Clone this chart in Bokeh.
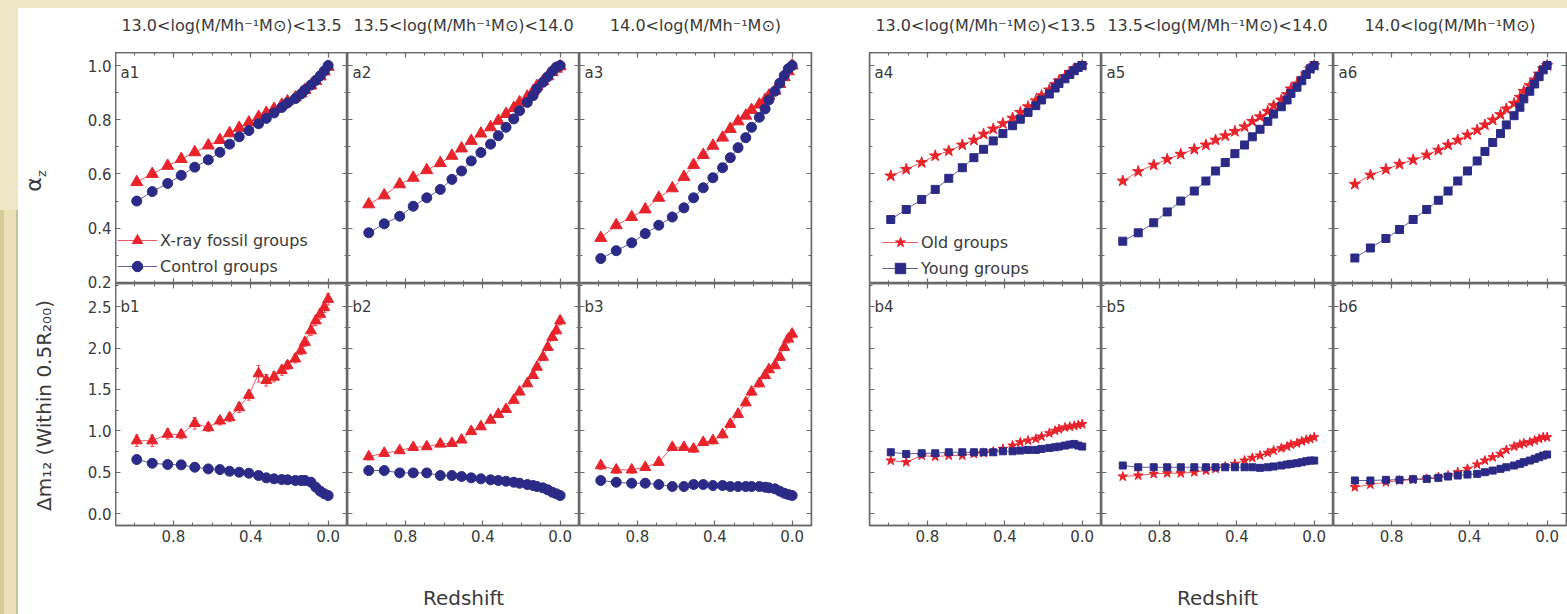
import math
from bokeh.plotting import figure
from bokeh.models import (Range1d, LinearAxis, FixedTicker, Label, Legend, LegendItem,
                          Whisker, TeeHead, ColumnDataSource, Spacer, NumeralTickFormatter)
from bokeh.layouts import row, column
from bokeh.embed import file_html
from bokeh.resources import INLINE

# ---------------- data ----------------
redshift = [0.99, 0.91, 0.83, 0.76, 0.69, 0.62, 0.56, 0.51, 0.46, 0.41, 0.36, 0.32,
            0.28, 0.24, 0.21, 0.17, 0.14, 0.12, 0.089, 0.064, 0.041, 0.020, 0.0]

mass_bins = ["13.0<log(M/Mh\u207b\u00b9M\u2299)<13.5",
             "13.5<log(M/Mh\u207b\u00b9M\u2299)<14.0",
             "14.0<log(M/Mh\u207b\u00b9M\u2299)"]

# alpha_z : fossil vs control
a1_fossil = [0.57, 0.60, 0.63, 0.655, 0.68, 0.705, 0.725, 0.75, 0.77, 0.79, 0.81, 0.825,
             0.84, 0.855, 0.868, 0.882, 0.897, 0.91, 0.926, 0.943, 0.96, 0.978, 0.995]
a1_control = [0.50, 0.535, 0.565, 0.595, 0.625, 0.652, 0.68, 0.71, 0.737, 0.76, 0.785, 0.805,
              0.825, 0.845, 0.862, 0.878, 0.895, 0.91, 0.928, 0.945, 0.962, 0.98, 1.0]
a2_fossil = [0.488, 0.521, 0.562, 0.586, 0.614, 0.64, 0.667, 0.694, 0.722, 0.749, 0.772, 0.796,
             0.821, 0.843, 0.864, 0.885, 0.905, 0.924, 0.942, 0.96, 0.976, 0.988, 0.997]
a2_control = [0.383, 0.416, 0.444, 0.481, 0.512, 0.543, 0.58, 0.611, 0.648, 0.679, 0.71, 0.741,
              0.772, 0.803, 0.833, 0.864, 0.889, 0.914, 0.938, 0.959, 0.979, 0.994, 1.0]
a3_fossil = [0.364, 0.411, 0.441, 0.469, 0.512, 0.547, 0.589, 0.633, 0.670, 0.704, 0.734, 0.766,
             0.794, 0.815, 0.836, 0.856, 0.873, 0.889, 0.907, 0.932, 0.957, 0.979, 1.0]
a3_control = [0.288, 0.317, 0.346, 0.38, 0.411, 0.441, 0.475, 0.512, 0.549, 0.586, 0.623, 0.66,
              0.697, 0.734, 0.772, 0.809, 0.84, 0.873, 0.905, 0.935, 0.963, 0.988, 1.0]

# alpha_z : old vs young
a4_old = [0.593, 0.617, 0.642, 0.667, 0.685, 0.707, 0.725, 0.747, 0.766, 0.786, 0.806, 0.827,
          0.848, 0.87, 0.889, 0.91, 0.93, 0.944, 0.959, 0.975, 0.988, 0.995, 1.0]
a4_young = [0.432, 0.469, 0.506, 0.543, 0.584, 0.623, 0.66, 0.691, 0.722, 0.749, 0.778, 0.802,
            0.827, 0.852, 0.873, 0.895, 0.917, 0.934, 0.951, 0.967, 0.981, 0.993, 1.0]
a5_old = [0.574, 0.609, 0.633, 0.654, 0.673, 0.691, 0.707, 0.725, 0.741, 0.757, 0.774, 0.794,
          0.811, 0.831, 0.852, 0.873, 0.893, 0.914, 0.932, 0.951, 0.969, 0.988, 1.0]
a5_young = [0.352, 0.383, 0.42, 0.46, 0.5, 0.537, 0.574, 0.611, 0.642, 0.675, 0.707, 0.737,
            0.765, 0.794, 0.821, 0.848, 0.873, 0.897, 0.92, 0.944, 0.967, 0.988, 1.0]
a6_old = [0.562, 0.596, 0.617, 0.636, 0.652, 0.670, 0.688, 0.707, 0.725, 0.744, 0.762, 0.781,
          0.799, 0.819, 0.84, 0.86, 0.883, 0.905, 0.926, 0.947, 0.969, 0.988, 1.0]
a6_young = [0.29, 0.327, 0.362, 0.395, 0.432, 0.469, 0.503, 0.537, 0.574, 0.611, 0.648, 0.683,
            0.716, 0.749, 0.781, 0.815, 0.846, 0.877, 0.905, 0.932, 0.959, 0.984, 1.0]

# magnitude gap : fossil vs control
b1_fossil = [0.88, 0.88, 0.96, 0.954, 1.09, 1.04, 1.12, 1.16, 1.28, 1.43, 1.69, 1.61,
             1.65, 1.73, 1.79, 1.87, 1.97, 2.07, 2.21, 2.33, 2.41, 2.49, 2.59]
b1_fossil_err = [0.07, 0.07, 0.06, 0.05, 0.07, 0.05, 0.05, 0.05, 0.06, 0.06, 0.10, 0.07,
                 0.06, 0.06, 0.05, 0.05, 0.05, 0.05, 0.06, 0.06, 0.06, 0.06, 0.07]
b1_control = [0.652, 0.607, 0.592, 0.588, 0.559, 0.539, 0.531, 0.511, 0.499, 0.487, 0.459, 0.431,
              0.419, 0.41, 0.407, 0.399, 0.399, 0.399, 0.378, 0.318, 0.27, 0.238, 0.217]
b2_fossil = [0.688, 0.729, 0.761, 0.801, 0.809, 0.841, 0.849, 0.89, 0.994, 1.05, 1.13, 1.20,
             1.26, 1.37, 1.47, 1.57, 1.67, 1.77, 1.89, 2.01, 2.13, 2.21, 2.33]
b2_fossil_err = [0.04, 0.04, 0.03, 0.03, 0.03, 0.03, 0.03, 0.03, 0.03, 0.03, 0.03, 0.03,
                 0.03, 0.03, 0.03, 0.03, 0.03, 0.03, 0.04, 0.04, 0.04, 0.04, 0.05]
b2_control = [0.519, 0.519, 0.491, 0.491, 0.491, 0.459, 0.459, 0.447, 0.431, 0.419, 0.407, 0.399,
              0.39, 0.378, 0.366, 0.35, 0.338, 0.326, 0.31, 0.286, 0.257, 0.238, 0.217]
b3_fossil = [0.58, 0.528, 0.528, 0.559, 0.62, 0.801, 0.801, 0.781, 0.861, 0.882, 0.954, 1.08,
             1.20, 1.34, 1.47, 1.57, 1.67, 1.74, 1.79, 1.89, 2.01, 2.11, 2.17]
b3_fossil_err = [0.05, 0.04, 0.04, 0.04, 0.04, 0.04, 0.04, 0.04, 0.04, 0.04, 0.04, 0.04,
                 0.04, 0.04, 0.04, 0.04, 0.04, 0.04, 0.04, 0.04, 0.04, 0.05, 0.05]
b3_control = [0.399, 0.378, 0.366, 0.366, 0.35, 0.326, 0.326, 0.35, 0.35, 0.338, 0.338, 0.326,
              0.326, 0.326, 0.326, 0.326, 0.318, 0.31, 0.298, 0.27, 0.245, 0.229, 0.217]

# magnitude gap : old vs young
b4_old = [0.64, 0.62, 0.70, 0.688, 0.70, 0.70, 0.721, 0.733, 0.749, 0.781, 0.821, 0.861,
          0.882, 0.902, 0.93, 0.97, 1.0, 1.02, 1.04, 1.05, 1.06, 1.07, 1.08]
b4_young = [0.74, 0.72, 0.728, 0.728, 0.74, 0.74, 0.74, 0.74, 0.74, 0.752, 0.752, 0.761,
            0.769, 0.769, 0.781, 0.793, 0.801, 0.809, 0.821, 0.833, 0.841, 0.821, 0.809]
b5_old = [0.447, 0.459, 0.479, 0.487, 0.487, 0.499, 0.519, 0.54, 0.568, 0.60, 0.64, 0.673,
          0.70, 0.733, 0.761, 0.789, 0.809, 0.833, 0.849, 0.873, 0.89, 0.902, 0.922]
b5_young = [0.58, 0.559, 0.559, 0.559, 0.559, 0.559, 0.559, 0.559, 0.559, 0.559, 0.559, 0.559,
            0.552, 0.559, 0.568, 0.58, 0.592, 0.60, 0.608, 0.62, 0.632, 0.64, 0.64]
b6_old = [0.318, 0.35, 0.378, 0.399, 0.407, 0.419, 0.438, 0.459, 0.499, 0.54, 0.592, 0.64,
          0.68, 0.721, 0.769, 0.809, 0.833, 0.849, 0.861, 0.882, 0.902, 0.922, 0.922]
b6_young = [0.399, 0.399, 0.407, 0.407, 0.415, 0.419, 0.431, 0.447, 0.459, 0.471, 0.479, 0.499,
            0.519, 0.54, 0.559, 0.58, 0.60, 0.62, 0.64, 0.661, 0.68, 0.70, 0.713]

x_ticks = [0.8, 0.4, 0.0]
x_minor = [1.0, 0.9, 0.7, 0.6, 0.5, 0.3, 0.2, 0.1]
alpha_ticks = [0.2, 0.4, 0.6, 0.8, 1.0]
alpha_minor = [0.3, 0.5, 0.7, 0.9]
dm_ticks = [0.0, 0.5, 1.0, 1.5, 2.0, 2.5]
dm_minor = [0.25, 0.75, 1.25, 1.75, 2.25, 2.75]

# ---------------- style ----------------
RED = "#e8232b"
BLUE = "#2b2a86"
FRAME = "#6a6a6a"
TXT = "#3a3a3a"
FONT = "DejaVu Sans"
BEIGE = "#f0e7c7"
XR = (1.1, -0.1)
A_YR = (0.196, 1.048)
B_YR = (-0.145, 2.78)
A_H, B_H = 231, 242
B_BORDER = 27
BLOCK_W = 1487
LABEL_W = 62
AXIS_W = 35


def make_fig(w, h, yr, bl=0, br=0, bt=0, bb=0):
    p = figure(width=w, height=h, x_range=Range1d(*XR), y_range=Range1d(*yr),
               x_axis_location=None, y_axis_location=None, toolbar_location=None,
               output_backend="svg", title=None, min_border=0,
               min_border_left=bl, min_border_right=br, min_border_top=bt,
               min_border_bottom=bb)
    p.background_fill_color = "white"
    p.border_fill_color = "white"
    p.outline_line_color = FRAME
    p.outline_line_width = 1.5
    p.xgrid.visible = False
    p.ygrid.visible = False
    return p


def text_fig(w, h):
    p = figure(width=w, height=h, x_range=Range1d(0, w), y_range=Range1d(0, h),
               x_axis_location=None, y_axis_location=None, toolbar_location=None,
               output_backend="svg", title=None, min_border=0)
    p.background_fill_color = "white"
    p.border_fill_color = "white"
    p.outline_line_color = None
    p.xgrid.visible = False
    p.ygrid.visible = False
    return p


def style_labels(ax):
    ax.major_label_text_font = FONT
    ax.major_label_text_font_size = "15px"
    ax.major_label_text_color = TXT
    ax.major_label_standoff = 4


def add_axis(p, side, ticks, minor, loc, show):
    if show:
        ax = LinearAxis(ticker=FixedTicker(ticks=ticks, minor_ticks=minor),
                        formatter=NumeralTickFormatter(format="0.0"))
    else:
        ax = LinearAxis(ticker=FixedTicker(ticks=ticks, minor_ticks=minor), fixed_location=loc,
                        formatter=NumeralTickFormatter(format="0.0"))
    ax.axis_line_color = FRAME
    ax.axis_line_width = 1.5
    ax.major_tick_line_color = FRAME
    ax.minor_tick_line_color = FRAME
    ax.major_tick_line_width = 1.2
    ax.minor_tick_line_width = 1
    ax.major_tick_in = 5
    ax.major_tick_out = 0
    ax.minor_tick_in = 3
    ax.minor_tick_out = 0
    if show:
        style_labels(ax)
    else:
        ax.major_label_text_font_size = "0px"
        ax.major_label_text_color = None
    p.add_layout(ax, side)


def label(p, x, y, text, size, align="left", angle=0.0, color=TXT):
    p.add_layout(Label(x=x, y=y, x_units="screen", y_units="screen", text=text,
                       angle=angle, text_font=FONT, text_font_size=size, text_color=color,
                       text_align=align, text_baseline="middle"))


def draw(p, red, blue, rmark, bmark, rsize, bsize, err=None):
    data = dict(z=redshift, red=red, blue=blue)
    if err is not None:
        data["lo"] = [v - e for v, e in zip(red, err)]
        data["hi"] = [v + e for v, e in zip(red, err)]
    src = ColumnDataSource(data)
    rl = p.line("z", "red", source=src, line_color=RED, line_width=1, line_alpha=0.75)
    if err is not None:
        p.add_layout(Whisker(source=src, base="z", lower="lo", upper="hi", dimension="height",
                             line_color=RED, line_width=1, line_alpha=0.8,
                             lower_head=TeeHead(size=4, line_color=RED, line_alpha=0.8),
                             upper_head=TeeHead(size=4, line_color=RED, line_alpha=0.8)))
    rp = p.scatter("z", "red", source=src, marker=rmark, size=rsize,
                   fill_color=RED, line_color=RED)
    bl = p.line("z", "blue", source=src, line_color=BLUE, line_width=1, line_alpha=0.75)
    bp = p.scatter("z", "blue", source=src, marker=bmark, size=bsize,
                   fill_color=BLUE, line_color=BLUE)
    return rl, rp, bl, bp


# (figure width, border_left, border_right) for the six columns
cols = [(232, 0, 0), (232, 0, 0), (261, 0, 29), (261, 29, 0), (232, 0, 0), (234, 0, 1)]
frame_w = [w - l - r for (w, l, r) in cols]
frame_x0 = []
acc = AXIS_W
for (w, l, r) in cols:
    frame_x0.append(acc + l)
    acc += w

top_data = [(a1_fossil, a1_control), (a2_fossil, a2_control), (a3_fossil, a3_control),
            (a4_old, a4_young), (a5_old, a5_young), (a6_old, a6_young)]
bot_data = [(b1_fossil, b1_control, b1_fossil_err), (b2_fossil, b2_control, b2_fossil_err),
            (b3_fossil, b3_control, b3_fossil_err), (b4_old, b4_young, None),
            (b5_old, b5_young, None), (b6_old, b6_young, None)]

top_figs, bot_figs = [], []
for i in range(6):
    w, bl_, br_ = cols[i]
    left_block = i < 3
    rmark, bmark = ("triangle", "circle") if left_block else ("star", "square")

    # ---- top (alpha_z) ----
    p = make_fig(w, A_H, A_YR, bl=bl_, br=br_)
    add_axis(p, "left", alpha_ticks, alpha_minor, XR[0], False)
    add_axis(p, "right", alpha_ticks, alpha_minor, XR[1], False)
    add_axis(p, "above", x_ticks, x_minor, A_YR[1], False)
    add_axis(p, "below", x_ticks, x_minor, A_YR[0], False)
    red, blue = top_data[i]
    if left_block:
        rl, rp, bl, bp = draw(p, red, blue, rmark, bmark, 12, 10)
    else:
        rl, rp, bl, bp = draw(p, red, blue, rmark, bmark, 12, 8)
    label(p, 5, A_H - 20, "a%d" % (i + 1), "15px")
    leg = None
    if i == 0:
        leg = Legend(items=[LegendItem(label="X-ray fossil groups", renderers=[rl, rp]),
                            LegendItem(label="Control groups", renderers=[bl, bp])],
                     location=(2, 4))
    elif i == 3:
        leg = Legend(items=[LegendItem(label="Old groups", renderers=[rl, rp]),
                            LegendItem(label="Young groups", renderers=[bl, bp])],
                     location=(13, 2))
    if leg is not None:
        leg.background_fill_alpha = 0
        leg.border_line_color = None
        leg.label_text_font = FONT
        leg.label_text_font_size = "16px"
        leg.label_text_color = TXT
        leg.glyph_width = 40 if i == 0 else 36
        leg.glyph_height = 26
        leg.label_height = 26
        leg.spacing = 0
        leg.padding = 0
        leg.margin = 0
        leg.label_standoff = 3
        p.add_layout(leg)
    top_figs.append(p)

    # ---- bottom (magnitude gap) ----
    q = make_fig(w, B_H + B_BORDER, B_YR, bl=bl_, br=br_, bb=B_BORDER)
    add_axis(q, "left", dm_ticks, dm_minor, XR[0], False)
    add_axis(q, "right", dm_ticks, dm_minor, XR[1], False)
    add_axis(q, "above", x_ticks, x_minor, B_YR[1], False)
    add_axis(q, "below", x_ticks, x_minor, B_YR[0], True)
    red, blue, err = bot_data[i]
    if left_block:
        draw(q, red, blue, rmark, bmark, 11, 10, err)
    else:
        draw(q, red, blue, rmark, bmark, 10, 7, err)
    label(q, 5, B_H - 23, "b%d" % (i + 1), "15px")
    bot_figs.append(q)

# ---- shared y tick-label column (spans both rows, so no label is cut) ----
a_per_px = (A_YR[1] - A_YR[0]) / A_H
b_per_px = (B_YR[1] - B_YR[0]) / B_H
tall = A_H + B_H
axfig = figure(width=AXIS_W, height=tall + B_BORDER, x_range=Range1d(0, 1),
               y_range=Range1d(A_YR[1] - tall * a_per_px, A_YR[1]),
               x_axis_location=None, y_axis_location=None, toolbar_location=None,
               output_backend="svg", title=None, min_border=0, min_border_bottom=B_BORDER)
axfig.extra_y_ranges = {"dm": Range1d(B_YR[0], B_YR[0] + tall * b_per_px)}
axfig.background_fill_color = "white"
axfig.border_fill_color = "white"
axfig.outline_line_color = None
axfig.xgrid.visible = False
axfig.ygrid.visible = False
for ticks, rname in ((alpha_ticks, "default"), (dm_ticks, "dm")):
    ax = LinearAxis(ticker=FixedTicker(ticks=ticks), y_range_name=rname, fixed_location=1,
                    formatter=NumeralTickFormatter(format="0.0"))
    ax.axis_line_color = None
    ax.major_tick_line_color = None
    ax.minor_tick_line_color = None
    ax.major_tick_in = 0
    ax.major_tick_out = 0
    ax.minor_tick_in = 0
    ax.minor_tick_out = 0
    style_labels(ax)
    axfig.add_layout(ax, "left")

# ---- title strip (mass bins) ----
title_fig = text_fig(BLOCK_W, 44)
for i in range(6):
    label(title_fig, frame_x0[i] + frame_w[i] / 2, 27, mass_bins[i % 3], "16px", align="center")

# ---- bottom strip (x-axis titles) ----
xlab_fig = text_fig(BLOCK_W, 62)
for i in (1, 4):
    label(xlab_fig, frame_x0[i] + frame_w[i] / 2, 17, "Redshift", "20px", align="center")

# ---- left strip (y-axis titles) ----
ylab_fig = text_fig(LABEL_W, 606)
label(ylab_fig, 15, 430, "\u03b1", "22px", align="center", angle=math.pi / 2)
label(ylab_fig, 23, 441, "z", "13px", align="center", angle=math.pi / 2)
label(ylab_fig, 25, 209, "\u0394m\u2081\u2082 (Within 0.5R\u2082\u2080\u2080)", "20px",
      align="center", angle=math.pi / 2)

left_strip = column(
    Spacer(width=18, height=202, styles={"background-color": BEIGE}),
    row(Spacer(width=4, height=404, styles={"background-color": "#d9cb98"}),
        Spacer(width=12, height=404, styles={"background-color": "#ebe0b8"}),
        Spacer(width=2, height=404, styles={"background-color": "#c6bea0"})),
)
panels = column(row(*top_figs), row(*bot_figs))
block = column(title_fig, row(axfig, panels), xlab_fig)
page = column(Spacer(width=1567, height=8, styles={"background-color": BEIGE}),
              row(left_strip, ylab_fig, block))

open("out.html", "w").write(file_html(page, INLINE, title="alpha_z and magnitude gap"))
